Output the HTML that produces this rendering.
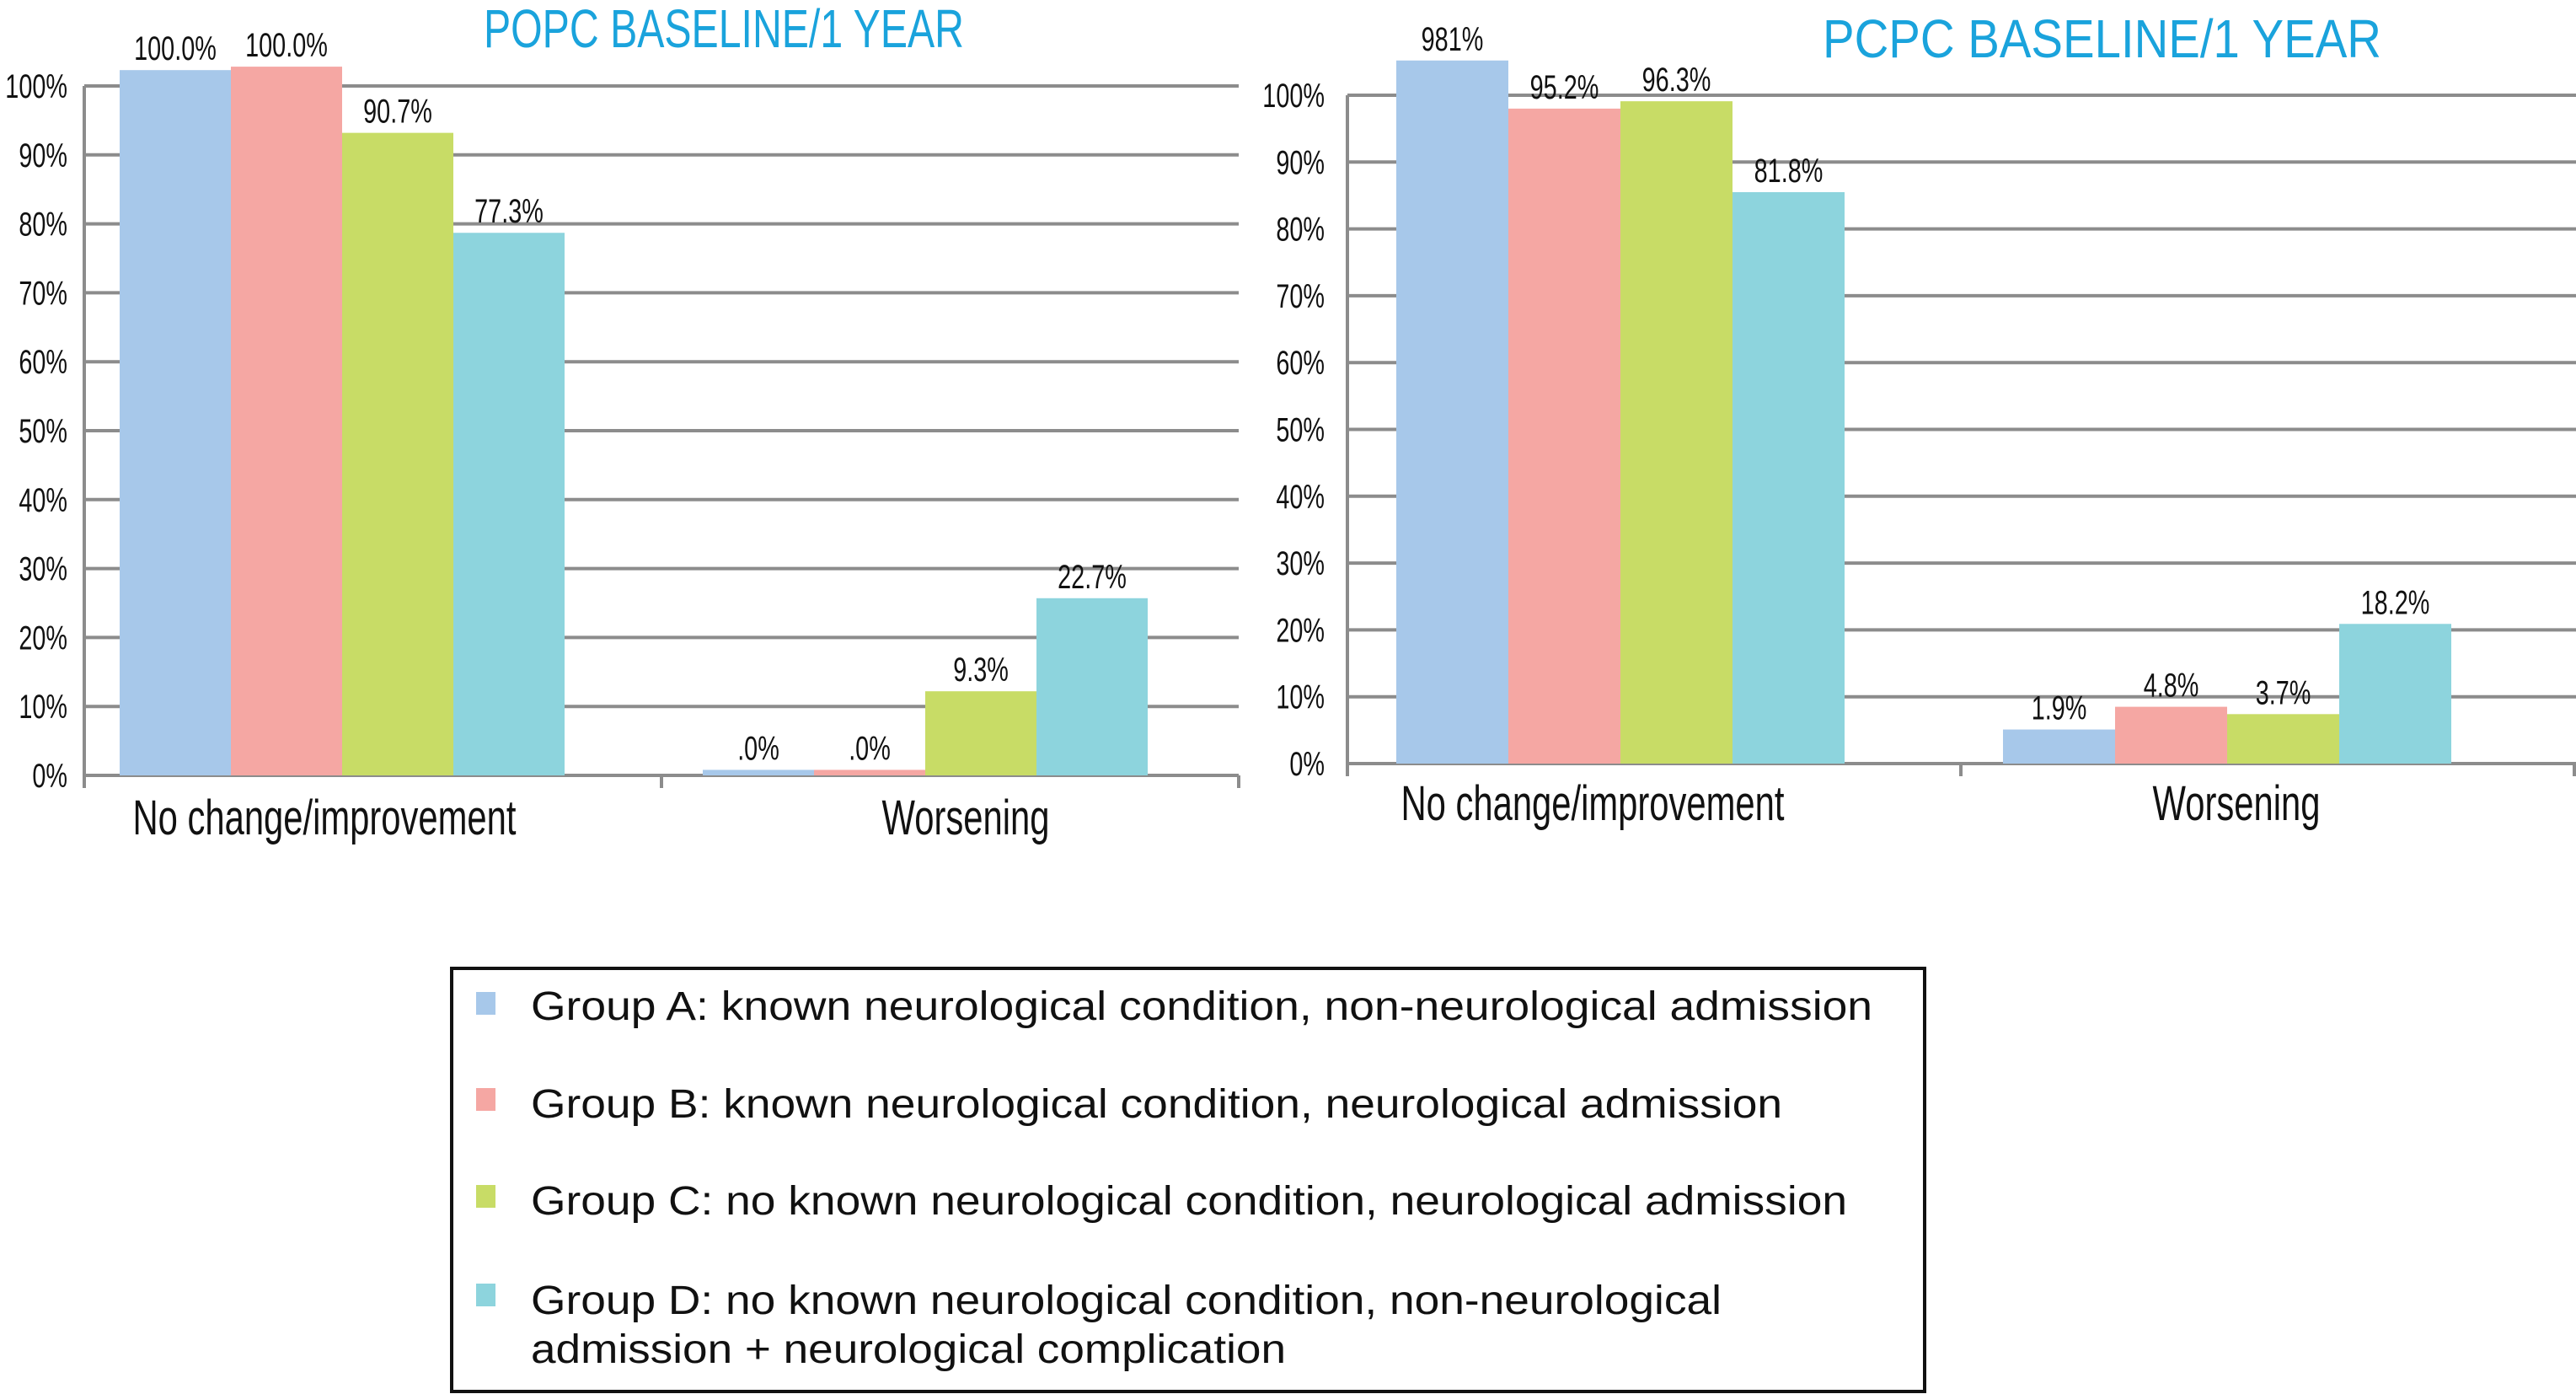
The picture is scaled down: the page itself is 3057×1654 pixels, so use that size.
<!DOCTYPE html>
<html><head><meta charset="utf-8"><style>
html,body{margin:0;padding:0;background:#fff}
svg{display:block}
text{font-family:"Liberation Sans",sans-serif}
</style></head><body>
<svg id="s" width="3057" height="1654" viewBox="0 0 3057 1654" xmlns="http://www.w3.org/2000/svg">
<rect x="0" y="0" width="3057" height="1654" fill="#fff"/>
<g id="legend">
<rect x="536" y="1149" width="1748" height="502" fill="none" stroke="#111" stroke-width="4"/>
<rect x="565" y="1177" width="23" height="27" fill="#a7c8ea"/>
<rect x="565" y="1291" width="23" height="27" fill="#f5a7a3"/>
<rect x="565" y="1406" width="23" height="27" fill="#c8dc66"/>
<rect x="565" y="1523" width="23" height="27" fill="#8dd4dd"/>
<text x="630" y="1210" font-size="48" textLength="1592" lengthAdjust="spacingAndGlyphs" fill="#111">Group A: known neurological condition, non-neurological admission</text>
<text x="630" y="1326" font-size="48" textLength="1485" lengthAdjust="spacingAndGlyphs" fill="#111">Group B: known neurological condition, neurological admission</text>
<text x="630" y="1441" font-size="48" textLength="1562" lengthAdjust="spacingAndGlyphs" fill="#111">Group C: no known neurological condition, neurological admission</text>
<text x="630" y="1559" font-size="48" textLength="1413" lengthAdjust="spacingAndGlyphs" fill="#111">Group D: no known neurological condition, non-neurological</text>
<text x="630" y="1617" font-size="48" textLength="896" lengthAdjust="spacingAndGlyphs" fill="#111">admission + neurological complication</text>
</g>
</svg>
<script>
const categories = ["No change/improvement", "Worsening"];
const groups = ["A", "B", "C", "D"];
const colors = ["#a7c8ea", "#f5a7a3", "#c8dc66", "#8dd4dd"];
const yTicks = [0, 10, 20, 30, 40, 50, 60, 70, 80, 90, 100];
const yTickLabels = ["0%", "10%", "20%", "30%", "40%", "50%", "60%", "70%", "80%", "90%", "100%"];
// POPC chart: bar heights as drawn (%), per group [cat1, cat2]
const popcA = [102.3, 0.8];
const popcB = [102.8, 0.8];
const popcC = [93.2, 12.2];
const popcD = [78.7, 25.7];
const popcLabelsA = ["100.0%", ".0%"];
const popcLabelsB = ["100.0%", ".0%"];
const popcLabelsC = ["90.7%", "9.3%"];
const popcLabelsD = ["77.3%", "22.7%"];
// PCPC chart
const pcpcA = [105.2, 5.1];
const pcpcB = [98.0, 8.5];
const pcpcC = [99.1, 7.4];
const pcpcD = [85.5, 20.9];
const pcpcLabelsA = ["981%", "1.9%"];
const pcpcLabelsB = ["95.2%", "4.8%"];
const pcpcLabelsC = ["96.3%", "3.7%"];
const pcpcLabelsD = ["81.8%", "18.2%"];

const NS = "http://www.w3.org/2000/svg";
const svg = document.getElementById("s");
function mk(tag, attrs, parent) {
  const e = document.createElementNS(NS, tag);
  for (const k in attrs) e.setAttribute(k, attrs[k]);
  (parent || svg).appendChild(e);
  return e;
}
function condText(parent, x, y, str, size, anchor, fill, squeeze) {
  const t = mk("text", {x: x, y: y, "font-size": size, "text-anchor": anchor, fill: fill}, parent);
  t.textContent = str;
  const w = t.getComputedTextLength();
  t.setAttribute("textLength", (w * squeeze).toFixed(1));
  t.setAttribute("lengthAdjust", "spacingAndGlyphs");
  return t;
}

function drawChart(cfg) {
  const g = mk("g", {});
  
  
  const y = v => cfg.y0 - (v / 100) * (cfg.y0 - cfg.y100);
  yTicks.forEach((t, i) => {
    const ln = mk("line", {x1: cfg.axisX, x2: cfg.right, y1: y(t), y2: y(t), stroke: "#8c8c8c", "stroke-width": 4}, g);
    
    
    const lb = condText(g, cfg.tickRight, y(t) + 14, yTickLabels[i], 40, "end", "#111", 0.72);
    
    
  });
  const series = cfg.series, labels = cfg.labels;
  categories.forEach((c, ci) => {
    groups.forEach((gr, gi) => {
      const v = series[gi][ci];
      const x = cfg.groupStart[ci] + gi * cfg.barW;
      const r = mk("rect", {x: x, y: y(v), width: cfg.barW, height: y(0) - y(v), fill: colors[gi]}, g);
      
      
      const lb = condText(g, x + cfg.barW / 2, y(v) - 12, labels[gi][ci], 40, "middle", "#111", 0.72);
      
      
    });
    const cl = condText(g, cfg.catCenters[ci], cfg.catY, c, 58, "middle", "#111", 0.72);
    
    
  });
  const ya = mk("line", {x1: cfg.axisX, x2: cfg.axisX, y1: cfg.y100, y2: y(0) + 15, stroke: "#8c8c8c", "stroke-width": 4}, g);
  
  
  cfg.dividers.forEach(dx => {
    const d = mk("line", {x1: dx, x2: dx, y1: y(0), y2: y(0) + 15, stroke: "#8c8c8c", "stroke-width": 4}, g);
    
    
  });
  const tt = mk("text", {x: cfg.titleX, y: cfg.titleY, "font-size": 64, fill: "#1aa3dc", textLength: cfg.titleW, lengthAdjust: "spacingAndGlyphs"}, g);
  tt.textContent = cfg.title;
  
  
}

drawChart({
  name: "popc-chart", title: "POPC BASELINE/1 YEAR", titleX: 574, titleY: 56, titleW: 570,
  axisX: 100, right: 1470, y0: 920, y100: 102, tickRight: 80,
  groupStart: [142, 834], barW: 132,
  series: [popcA, popcB, popcC, popcD],
  labels: [popcLabelsA, popcLabelsB, popcLabelsC, popcLabelsD],
  catCenters: [385, 1146], catY: 990, dividers: [785, 1470]
});
drawChart({
  name: "pcpc-chart", title: "PCPC BASELINE/1 YEAR", titleX: 2163, titleY: 68, titleW: 663,
  axisX: 1599, right: 3057, y0: 906, y100: 113, tickRight: 1572,
  groupStart: [1657, 2377], barW: 133,
  series: [pcpcA, pcpcB, pcpcC, pcpcD],
  labels: [pcpcLabelsA, pcpcLabelsB, pcpcLabelsC, pcpcLabelsD],
  catCenters: [1890, 2654], catY: 973, dividers: [2327, 3055]
});
</script>
</body></html>
